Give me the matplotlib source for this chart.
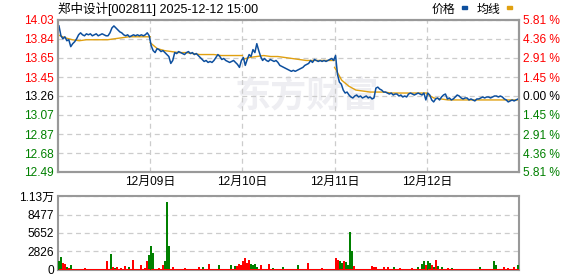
import numpy as np
import matplotlib
matplotlib.use("Agg")
import matplotlib.pyplot as plt

plt.rcParams['font.family'] = ['Liberation Sans', 'Noto Sans CJK SC', 'DejaVu Sans']

title = "郑中设计[002811] 2025-12-12 15:00"
prev_close = 13.26
price_ticks = [14.03, 13.84, 13.65, 13.45, 13.26, 13.07, 12.87, 12.68, 12.49]
pct_labels = ["5.81 %", "4.36 %", "2.91 %", "1.45 %", "0.00 %", "1.45 %", "2.91 %", "4.36 %", "5.81 %"]
day_labels = ["12月09日", "12月10日", "12月11日", "12月12日"]
vol_ticks = [0, 2826, 5652, 8477, 11303]
vol_labels = ["0", "2826", "5652", "8477", "1.13万"]

# minute prices, sampled roughly every 5 minutes, one list per trading day
price_days = [
    [13.97, 13.87, 13.84, 13.86, 13.82, 13.83, 13.76, 13.79, 13.81, 13.84, 13.88, 13.90,
     13.88, 13.87, 13.89, 13.88, 13.89, 13.87, 13.88, 13.89, 13.87, 13.88, 13.89, 13.88,
     13.87, 13.87, 13.90, 13.95, 13.97, 13.95, 13.93, 13.91, 13.90, 13.88, 13.87, 13.88,
     13.86, 13.87, 13.88, 13.87, 13.88, 13.87, 13.88, 13.87, 13.88, 13.90, 13.87],
    [13.77, 13.72, 13.70, 13.74, 13.73, 13.71, 13.72, 13.70, 13.68, 13.66, 13.59, 13.62,
     13.70, 13.69, 13.71, 13.70, 13.69, 13.68, 13.70, 13.71, 13.69, 13.70, 13.68, 13.69,
     13.67, 13.65, 13.63, 13.61, 13.62, 13.60, 13.61, 13.60, 13.62, 13.65, 13.68, 13.66,
     13.63, 13.64, 13.62, 13.61, 13.60, 13.61, 13.62, 13.60, 13.58, 13.55, 13.62],
    [13.65, 13.57, 13.63, 13.68, 13.66, 13.73, 13.70, 13.79, 13.72, 13.66, 13.62, 13.64,
     13.62, 13.61, 13.63, 13.62, 13.61, 13.62, 13.60, 13.57, 13.56, 13.55, 13.54, 13.53,
     13.52, 13.51, 13.52, 13.51, 13.52, 13.53, 13.54, 13.55, 13.57, 13.58, 13.59, 13.62,
     13.60, 13.63, 13.62, 13.61, 13.62, 13.61, 13.62, 13.61, 13.62, 13.63, 13.64, 13.62],
    [13.67, 13.48, 13.40, 13.38, 13.32, 13.29, 13.30, 13.27, 13.25, 13.24, 13.26, 13.27,
     13.25, 13.26, 13.24, 13.25, 13.26, 13.24, 13.25, 13.23, 13.24, 13.34, 13.35, 13.33,
     13.32, 13.30, 13.30, 13.29, 13.28, 13.29, 13.27, 13.28, 13.28, 13.26, 13.27, 13.25,
     13.26, 13.25, 13.28, 13.29, 13.28, 13.27, 13.28, 13.29, 13.28, 13.27, 13.29, 13.22],
    [13.29, 13.27, 13.22, 13.20, 13.23, 13.24, 13.22, 13.25, 13.27, 13.28, 13.23, 13.24,
     13.22, 13.23, 13.25, 13.27, 13.26, 13.24, 13.23, 13.24, 13.24, 13.22, 13.23, 13.22,
     13.21, 13.23, 13.23, 13.24, 13.25, 13.24, 13.25, 13.25, 13.24, 13.25, 13.26, 13.26,
     13.25, 13.26, 13.25, 13.23, 13.22, 13.20, 13.21, 13.22, 13.21, 13.22, 13.23],
]

# average price line, coarse samples per day
avg_days = [
    [13.88, 13.85, 13.83, 13.82, 13.83, 13.83, 13.83, 13.83, 13.84, 13.85, 13.86, 13.86, 13.86, 13.86],
    [13.80, 13.74, 13.72, 13.71, 13.70, 13.70, 13.69, 13.68, 13.68, 13.68, 13.67, 13.67, 13.67, 13.67],
    [13.63, 13.65, 13.66, 13.67, 13.66, 13.66, 13.65, 13.64, 13.63, 13.62, 13.62, 13.62, 13.62, 13.62],
    [13.55, 13.42, 13.36, 13.32, 13.31, 13.30, 13.30, 13.30, 13.29, 13.29, 13.29, 13.29, 13.29, 13.29],
    [13.28, 13.24, 13.23, 13.22, 13.22, 13.22, 13.22, 13.22, 13.22, 13.22, 13.22, 13.22, 13.22, 13.22],
]

# volume, 46 bins per day; r = up, g = down
vol_days = [
    [1400, 2000, 1100, 900, 500, 300, 700, 150, 150, 150, 150, 150, 150, 300, 150, 150,
     150, 150, 150, 150, 150, 150, 150, 150, 1300, 150, 2450, 400, 300, 400, 150, 300,
     150, 600, 150, 500, 150, 1500, 150, 150, 150, 700, 150, 300, 1300, 2300],
    [3650, 2600, 150, 150, 300, 150, 800, 1400, 10430, 3650, 150, 500, 150, 150, 150, 150,
     150, 300, 150, 150, 150, 150, 150, 150, 500, 150, 500, 150, 150, 900, 150, 150,
     150, 150, 800, 150, 150, 150, 150, 150, 800, 150, 600, 600, 900, 700],
    [1300, 1900, 1000, 1500, 900, 800, 900, 500, 150, 700, 150, 150, 150, 900, 150, 300,
     150, 150, 150, 150, 500, 150, 150, 150, 150, 150, 150, 700, 150, 150, 150, 150,
     1000, 150, 150, 150, 150, 150, 150, 300, 150, 150, 150, 150, 150, 150],
    [1900, 1600, 1300, 1000, 1400, 1200, 800, 5860, 2900, 600, 150, 150, 150, 150, 150, 150,
     150, 150, 600, 500, 500, 150, 150, 150, 500, 150, 400, 150, 150, 400, 150, 150,
     300, 150, 150, 150, 150, 150, 300, 150, 150, 400, 150, 900, 1300, 800],
    [1300, 1000, 700, 400, 1500, 600, 150, 400, 150, 150, 300, 150, 300, 150, 150, 150,
     150, 150, 150, 150, 150, 150, 150, 150, 150, 150, 500, 150, 150, 150, 150, 150,
     150, 1300, 800, 150, 150, 150, 400, 150, 300, 150, 150, 500, 150, 700],
]
vol_sides = [
    "ggrrgrgrrrrrrrrrrrrrrrrrrrgrgrrrgrrgrrrrrrgrrg",
    "ggrrrrrggggrrrrrrrrrrrrrrrgrrrrrrrgrrrrrgrgrrr",
    "rrrrggggrrrrrrrgrrrrgrrrrrrgrrrrrrrrrrrrrrrrrr",
    "rrggrggggrrrrrrrrrrrrgrrrrrrrgrrrrrrrrrrrgrggr",
    "ggrgrgrgrrrrgrrrrrrrrrrrrrgrrrrrrggrrrrgrrrrgg",
]

BLUE = "#0d4f9e"
GOLD = "#e0a010"
RED = "#ff0000"
GREEN = "#008000"
GRID = "#cccccc"
FRAME = "#999999"

fig = plt.figure(figsize=(5.78, 2.76), dpi=100)
ax = fig.add_axes([58 / 578, 1 - 172 / 276, 461 / 578, 152 / 276])
axv = fig.add_axes([58 / 578, 1 - 270 / 276, 461 / 578, 74 / 276])

ndays = len(price_days)

# watermark
ax.text(0.54, 0.50, "东方财富", transform=ax.transAxes, ha="center", va="center",
        fontsize=26, fontweight="bold", color="#eeeef2", zorder=0,
        family=["Noto Sans CJK SC"])

px, py = [], []
for d, vals in enumerate(price_days):
    n = len(vals)
    px += [d + (i + 0.5) / n for i in range(n)]
    py += vals
ax.plot(px, py, color=BLUE, lw=1.1, zorder=3)

for d, vals in enumerate(avg_days):
    n = len(vals)
    xs = [d + i / (n - 1) for i in range(n)]
    ax.plot(xs, vals, color=GOLD, lw=1.0, zorder=2)

ax.set_xlim(0, ndays)
ax.set_ylim(price_ticks[-1], price_ticks[0])
ax.set_yticks(price_ticks)
ax.set_yticklabels(["%.2f" % t for t in price_ticks])
for lab, t in zip(ax.get_yticklabels(), price_ticks):
    lab.set_color(RED if t > prev_close else ("black" if t == prev_close else GREEN))
ax.set_xticks(range(1, ndays))
ax.set_xticklabels(day_labels)
ax.tick_params(length=0, labelsize=8.6, pad=3)
ax.grid(True, color=GRID, ls=(0, (4, 3)), lw=0.9)

axr = ax.twinx()
axr.set_ylim(ax.get_ylim())
axr.set_yticks(price_ticks)
axr.set_yticklabels(pct_labels)
for lab, t in zip(axr.get_yticklabels(), price_ticks):
    lab.set_color(RED if t > prev_close else ("black" if t == prev_close else GREEN))
axr.tick_params(length=0, labelsize=8.6, pad=3)

for a in (ax, axr, axv):
    for s in a.spines.values():
        s.set_color(FRAME)
        s.set_linewidth(1.5)

# volume, drawn as crisp 1px vertical strokes
nb = len(vol_days[0])
for d, (vals, sides) in enumerate(zip(vol_days, vol_sides)):
    xs = [d + (i + 0.5) / nb for i in range(nb)]
    cols = [RED if c == "r" else GREEN for c in sides]
    axv.vlines(xs, 0, vals, colors=cols, lw=1.2, zorder=3, antialiased=False)
    axv.vlines([d + (i + 1.0) / nb for i in range(nb)], 0, [min(v, 150) for v in vals],
               colors=RED, lw=1.2, zorder=3, antialiased=False)

axv.set_xlim(0, ndays)
axv.set_ylim(0, vol_ticks[-1])
axv.set_yticks(vol_ticks)
axv.set_yticklabels(vol_labels)
axv.set_xticks([])
axv.yaxis.grid(True, color=GRID, ls=(0, (4, 3)), lw=0.9)
axv.tick_params(length=0, labelsize=8.6, pad=3)

fig.text(58 / 578, 1 - 9 / 276, title, ha="left", va="center", fontsize=9,
         family=["Liberation Sans", "Noto Sans CJK SC"])
fig.text(432 / 578, 1 - 9 / 276, "价格", ha="left", va="center", fontsize=8.6,
         family=["Noto Sans CJK SC"])
fig.text(477 / 578, 1 - 9 / 276, "均线", ha="left", va="center", fontsize=8.6,
         family=["Noto Sans CJK SC"])
fig.patches.append(plt.Rectangle((462 / 578, 1 - 9 / 276), 5 / 578, 3 / 276,
                                 transform=fig.transFigure, color=BLUE))
fig.patches.append(plt.Rectangle((507 / 578, 1 - 9 / 276), 5 / 578, 3 / 276,
                                 transform=fig.transFigure, color=GOLD))

fig.savefig("out.png", dpi=100)
